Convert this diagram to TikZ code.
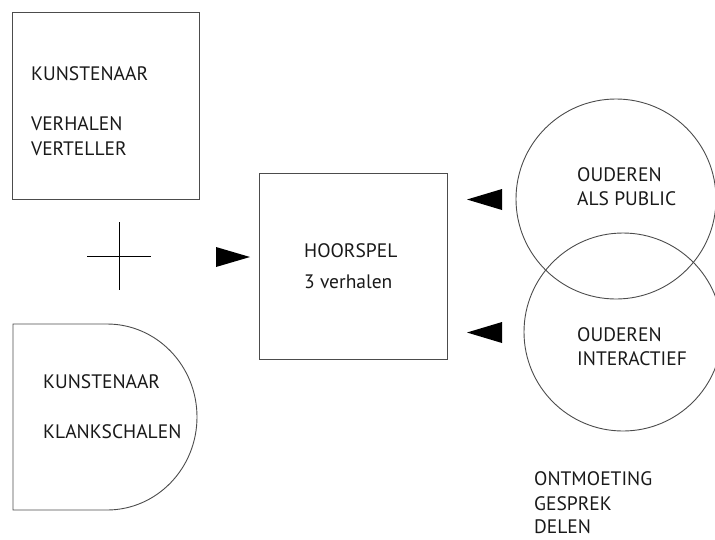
\documentclass[tikz,border=0pt]{standalone}
\usepackage{fontspec}
\setmainfont{PT Sans}
\begin{document}
\begin{tikzpicture}[x=1pt,y=-1pt,
  shape line/.style={draw=black!70,line width=0.9pt},
  lbl/.style={anchor=base west,inner sep=0pt,text=black!90,font=\fontsize{19.5}{22}\selectfont},
  tri/.style={fill=black}]
\useasboundingbox (0,0) rectangle (715,539);
% top-left box
\node[shape line,minimum width=187pt,minimum height=187pt,inner sep=0pt,anchor=north west] (artist) at (12,12) {};
\node[lbl] (t1) at (31,80) {KUNSTENAAR};
\node[lbl] (t2) at (31,130) {VERHALEN};
\node[lbl] (t3) at (31,155) {VERTELLER};
% plus
\coordinate (pc) at (119,256);
\draw[shape line,black] (87,256) -- (151,256);
\draw[shape line,black] (119,222) -- (119,290);
% bottom-left D shape
\draw[shape line] (107,324) -- (13,324) -- (13,510) -- (107,510) arc[start angle=90,end angle=-90,x radius=90,y radius=93];
\node[lbl] (t4) at (43,388) {KUNSTENAAR};
\node[lbl] (t5) at (43,438) {KLANKSCHALEN};
% middle box
\node[shape line,minimum width=188pt,minimum height=186pt,inner sep=0pt,anchor=north west] (hoor) at (259,173) {};
\node[lbl] (t6) at (304,257) {HOORSPEL};
\node[lbl] (t7) at (304,288) {3 verhalen};
% circles
\node[shape line,circle,minimum size=200pt,inner sep=0pt] (c1) at (616,199) {};
\node[shape line,circle,minimum size=198pt,inner sep=0pt] (c2) at (623,332) {};
\node[lbl] (t8) at (577,181) {OUDEREN};
\node[lbl] (t9) at (577,205) {ALS PUBLIC};
\node[lbl] (t10) at (577,341) {OUDEREN};
\node[lbl] (t11) at (577,365) {INTERACTIEF};
% bottom text
\node[lbl] (t12) at (534,485) {ONTMOETING};
\node[lbl] (t13) at (534,510) {GESPREK};
\node[lbl] (t14) at (534,533) {DELEN};
% triangles
\fill[tri] (216,247) -- (250,257) -- (216,267) -- cycle;
\fill[tri] (502,189) -- (467,199.5) -- (502,210) -- cycle;
\fill[tri] (502,322) -- (467,332.5) -- (502,343) -- cycle;
\end{tikzpicture}
\end{document}
